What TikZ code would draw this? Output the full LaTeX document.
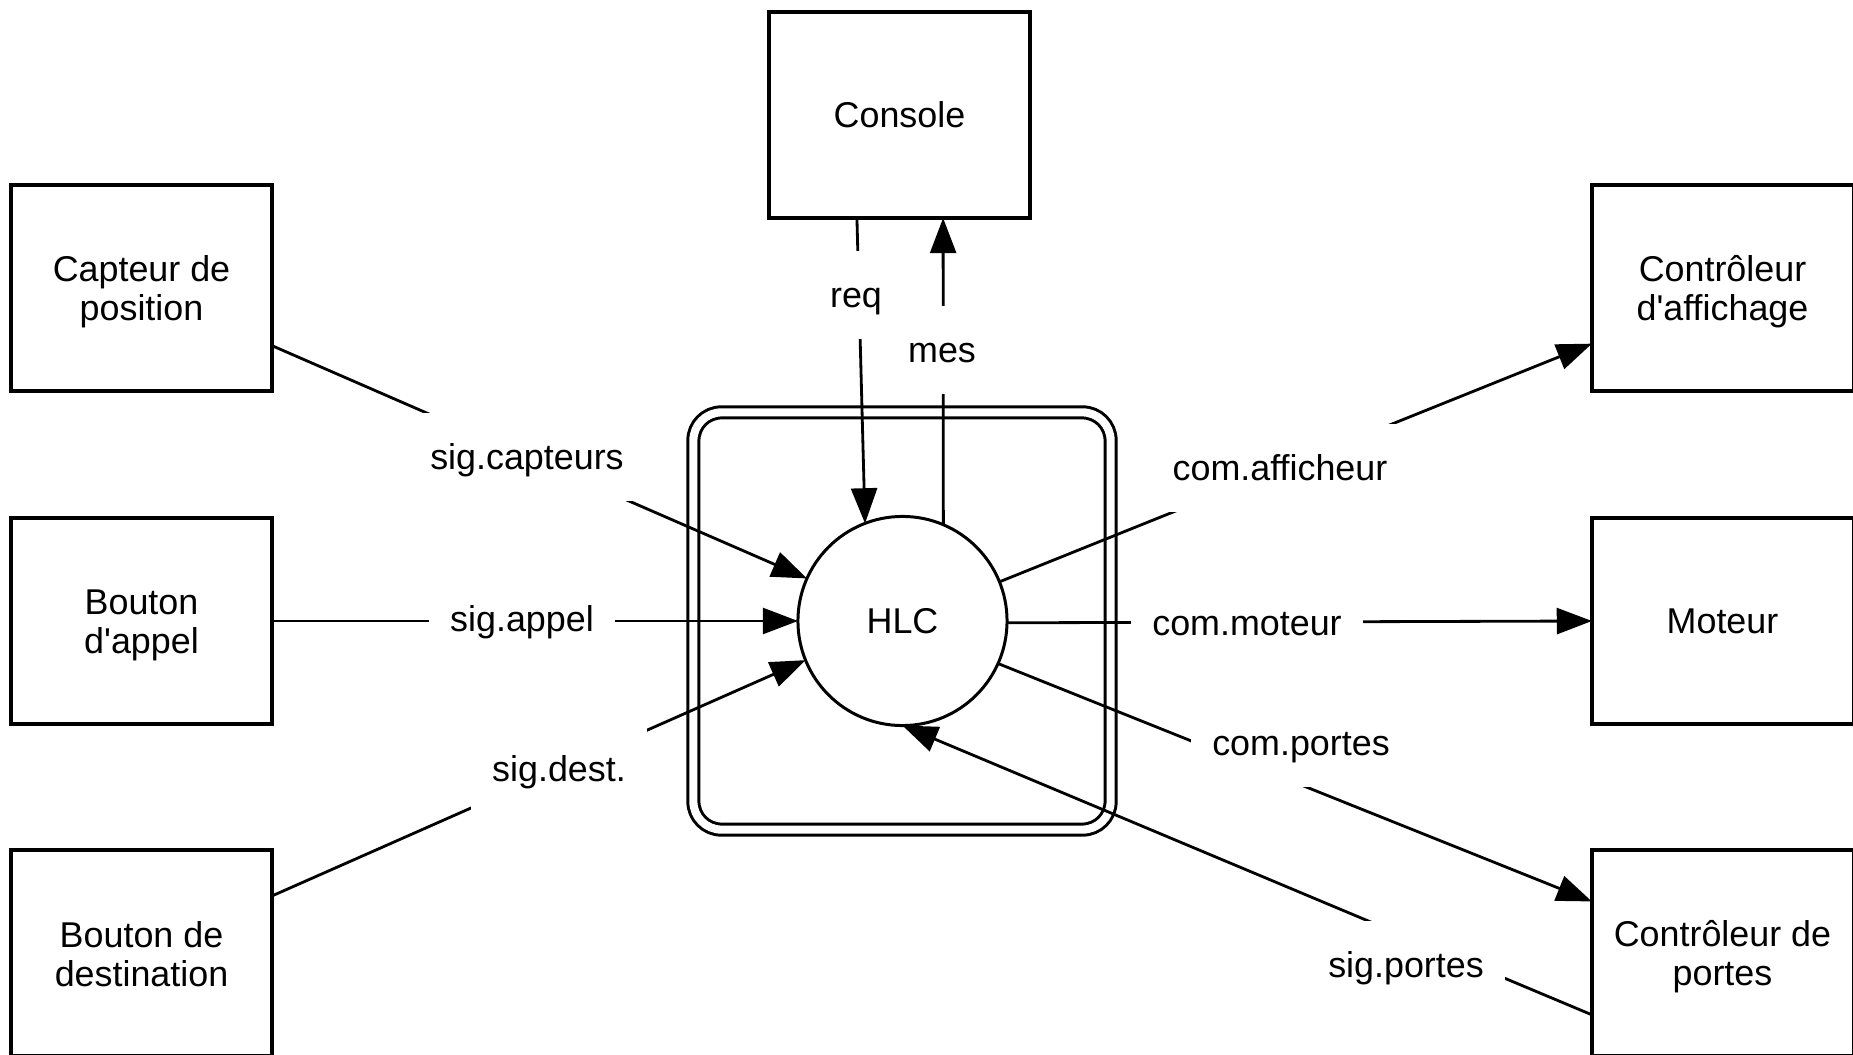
\documentclass[tikz,border=0pt]{standalone}
\usepackage{fontspec}
\setmainfont{Liberation Sans}
\usetikzlibrary{arrows.meta,calc}
\begin{document}
\begin{tikzpicture}[x=0.01cm,y=-0.01cm,
  every node/.style={font=\fontsize{10.2pt}{11.1pt}\selectfont},
  unit/.style={draw, line width=0.9pt, minimum width=2.61cm, minimum height=2.06cm,
    align=center, inner sep=0pt, outer sep=0pt},
  utext/.style={align=center, inner sep=0pt},
  proc/.style={draw, circle, line width=0.85pt, minimum size=2.09cm, inner sep=0pt, outer sep=0pt},
  frame/.style={draw, double, double distance=2.3pt, line width=0.85pt,
    rounded corners=8pt, minimum size=4.17cm, inner sep=0pt},
  flow/.style={line width=0.8pt, -{Triangle[length=10pt,width=7.4pt]}},
  lbl/.style={fill=white, inner xsep=6pt, inner ysep=7.3pt, text height=8.75pt, text depth=1.45pt}]
\useasboundingbox (0,0) rectangle (1853,1055);

% external units (two-line captions are set as separate text nodes)
\node[unit] (capteur) at (141.5,288) {};
\node[unit] (appel)   at (141.5,621) {};
\node[unit] (dest)    at (141.5,953) {};
\node[unit] (console) at (899.5,115) {Console};
\node[unit] (aff)     at (1722.5,288) {};
\node[unit] (moteur)  at (1722.5,621) {Moteur};
\node[unit] (portes)  at (1722.5,953) {};

\node[utext] (capteur-t) at ($(capteur.center)+(0,4)$) {Capteur de\\position};
\node[utext] (appel-t)   at ($(appel.center)+(0,4)$)   {Bouton\\d\textquotesingle appel};
\node[utext] (dest-t)    at ($(dest.center)+(0,1)$)    {Bouton de\\destination};
\node[utext] (aff-t)     at ($(aff.center)+(0,4)$)     {Contrôleur\\d\textquotesingle affichage};
\node[utext] (portes-t)  at ($(portes.center)+(0,4)$)  {Contrôleur de\\portes};

% controller process inside its double frame
\node[frame] (cadre) at (902,621) {};
\node[proc] (hlc) at (902.5,621) {HLC};

% data flows
\draw[flow] ($(capteur.south east)!0.22!(capteur.north east)$) -- (hlc.156.7);
\draw[flow] (appel.east) -- (hlc.west);
\draw[flow] ($(dest.north east)!0.223!(dest.south east)$) -- (hlc.202.7);
\draw[flow] ($(console.south west)!0.337!(console.south east)$) -- (hlc.111.9);
\draw[flow] (hlc.67.1) -- ($(console.south west)!0.667!(console.south east)$);
\draw[flow] (hlc.22.3) -- ($(aff.north west)!0.77!(aff.south west)$);
\draw[flow] (hlc.-1) -- (moteur.west);
\draw[flow] (hlc.-24) -- ($(portes.north west)!0.25!(portes.south west)$);
\draw[flow] ($(portes.north west)!0.8!(portes.south west)$) -- (hlc.south);

% flow labels
\node[lbl] (lcap)  at (527,457)  {sig.capteurs};
\node[lbl] (lapp)  at (522,619)  {sig.appel};
\node[lbl] (ldest) at (559,769)  {sig.dest.};
\node[lbl] (lreq)  at (856,295)  {req};
\node[lbl] (lmes)  at (942,350)  {mes};
\node[lbl] (laff)  at (1280,468) {com.afficheur};
\node[lbl] (lmot)  at (1247,623) {com.moteur};
\node[lbl] (lport) at (1301,743) {com.portes};
\node[lbl] (lsigp) at (1406,965) {sig.portes};
\end{tikzpicture}
\end{document}
